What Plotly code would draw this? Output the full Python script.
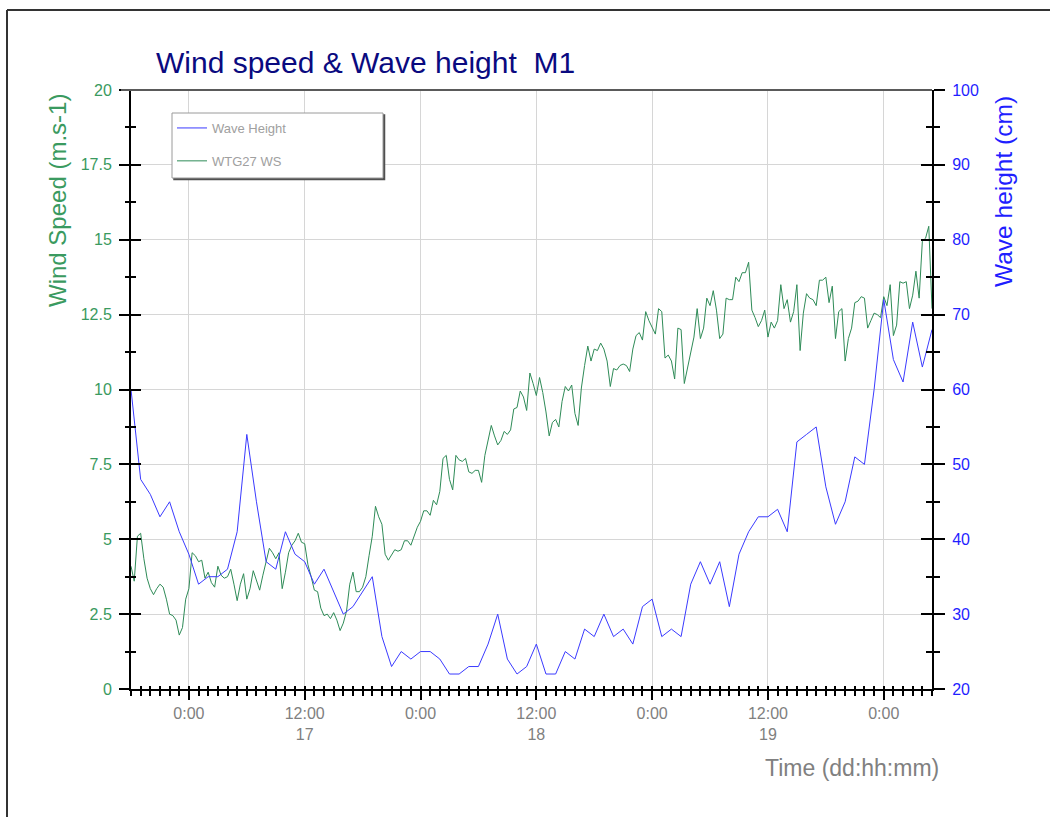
import pandas as pd
import plotly.graph_objects as go

# Hourly wave height at M1 (cm), first sample 16th 18:00
wave_height = [
    60, 48, 46, 43, 45, 41, 38, 34, 35, 35,
    36, 41, 54, 45, 37, 36, 41, 38, 37, 34,
    36, 33, 30, 31, 33, 35, 27, 23, 25, 24,
    25, 25, 24, 22, 22, 23, 23, 26, 30, 24,
    22, 23, 26, 22, 22, 25, 24, 28, 27, 30,
    27, 28, 26, 31, 32, 27, 28, 27, 34, 37,
    34, 37, 31, 38, 41, 43, 43, 44, 41, 53,
    54, 55, 47, 42, 45, 51, 50, 60, 72, 64,
    61, 69, 63, 68,
]

# WTG27 wind speed (m/s), 20-minute samples, first sample 16th 18:00
wind_speed = [
    4.1, 3.6, 5.1, 5.2, 4.35, 3.7, 3.35, 3.15, 3.35, 3.5,
    3.4, 3.0, 2.5, 2.45, 2.3, 1.8, 2.05, 3.0, 3.35, 4.55,
    4.45, 4.25, 4.3, 3.7, 3.9, 3.55, 3.4, 4.1, 3.8, 3.7,
    3.75, 4.0, 3.5, 2.95, 3.5, 3.85, 3.0, 3.35, 3.95, 3.6,
    3.3, 3.8, 4.3, 4.7, 4.55, 4.35, 4.55, 3.35, 3.9, 4.55,
    4.8, 4.95, 5.2, 4.9, 4.85, 4.15, 3.75, 3.3, 3.25, 2.7,
    2.45, 2.5, 2.35,
    2.55, 2.3, 1.95, 2.2, 2.6, 3.5, 3.9, 3.25, 3.25, 3.4,
    3.75, 4.45, 5.1, 6.1, 5.75, 5.5, 4.5, 4.3, 4.5, 4.65,
    4.6, 4.65, 4.95, 4.95, 4.8, 5.1, 5.4, 5.6, 5.95, 5.95,
    5.8, 6.3, 6.15, 6.6, 7.7, 7.8, 7.0, 6.65, 7.8, 7.65,
    7.6, 7.7, 7.25, 7.2, 7.3, 7.3, 6.9, 7.8, 8.3, 8.8,
    8.45, 8.15, 8.3, 8.6, 8.5, 8.65, 9.35, 9.4, 9.95, 9.75,
    9.3,
    10.55, 10.2, 9.8, 10.4, 9.9, 9.25, 8.45, 8.9, 9.0, 8.75,
    9.6, 10.1, 9.95, 10.15, 9.2, 8.8, 10.05, 10.8, 11.45, 10.95,
    11.35, 11.3, 11.55, 11.35, 10.95, 10.1, 10.7, 10.65, 10.8, 10.85,
    10.8, 10.6, 11.35, 11.8, 11.9, 11.65, 12.6, 12.3, 12.1, 11.85,
    12.7, 12.6, 11.05, 11.15, 10.95, 10.35, 12.05, 12.0, 10.2, 10.7,
    11.2, 11.75, 12.7, 11.7, 12.05, 13.05, 12.8, 13.3, 12.65, 11.7,
    11.85, 13.05, 13.0, 13.0,
    13.75, 13.6, 13.9, 13.9, 14.25, 12.65, 12.4, 12.1, 12.3, 12.65,
    11.75, 12.25, 12.05, 12.3, 13.5, 12.7, 13.0, 12.25, 12.6, 13.5,
    11.3, 12.55, 13.2, 13.05, 13.0, 12.8, 13.65, 13.65, 13.75, 12.9,
    13.45, 11.7, 12.6, 12.7, 10.95, 11.7, 12.05, 12.9, 12.95, 13.1,
    13.05, 12.05, 12.3, 12.55, 12.5, 12.4, 13.1, 12.8, 13.5, 11.8,
    12.15, 13.6, 13.55, 13.6, 12.7, 13.15, 13.95, 13.05, 14.95, 15.05,
    15.45, 12.7,
]

# Time axis: major labels every 12 hours
tick_times = [
    "2015-03-17 00:00", "2015-03-17 12:00", "2015-03-18 00:00",
    "2015-03-18 12:00", "2015-03-19 00:00", "2015-03-19 12:00",
    "2015-03-20 00:00",
]
tick_labels = ["0:00", "12:00<br>17", "0:00", "12:00<br>18", "0:00", "12:00<br>19", "0:00"]

start = "2015-03-16 18:00"
end = "2015-03-20 05:00"
wave_time = pd.date_range(start, periods=len(wave_height), freq="h")
wind_time = pd.date_range(start, periods=len(wind_speed), freq="20min")

FONT = "Liberation Sans, Arial, sans-serif"
GREEN_TXT = "#3a9a60"
GREEN_LINE = "#2e8b57"
BLUE_TXT = "#1f1fff"
BLUE_LINE = "#3a3aff"
GREY_TXT = "#808080"
GRID = "#d6d6d6"

fig = go.Figure()

fig.add_trace(go.Scatter(
    x=wave_time, y=wave_height, name="Wave Height", mode="lines",
    line=dict(color=BLUE_LINE, width=1), yaxis="y2", legendgroup="a",
))
fig.add_trace(go.Scatter(
    x=wind_time, y=wind_speed, name="WTG27 WS", mode="lines",
    line=dict(color=GREEN_LINE, width=1), yaxis="y", legendgroup="b",
))

# helper axes carry the inward half of each tick so ticks cross the axis line
fig.add_trace(go.Scatter(x=[], y=[], xaxis="x2", yaxis="y3", showlegend=False, hoverinfo="skip"))
fig.add_trace(go.Scatter(x=[], y=[], xaxis="x2", yaxis="y4", showlegend=False, hoverinfo="skip"))

W, H = 1050, 817
L, R, T, B = 131, 118, 90, 128
pw, ph = W - L - R, H - T - B


def px_x(px):
    return (px - L) / pw


def px_y(py):
    return (H - B - py) / ph


fig.update_layout(
    width=W, height=H,
    margin=dict(l=L, r=R, t=T, b=B, pad=0),
    paper_bgcolor="white", plot_bgcolor="white",
    font=dict(family=FONT),
    title=dict(
        text="Wind speed &amp; Wave height  M1",
        font=dict(size=30, color="#0a0a80", family=FONT),
        x=156 / W, xref="container", xanchor="left",
        y=1 - 52 / H, yref="container", yanchor="top",
    ),
    showlegend=True,
    legend=dict(
        x=px_x(172), y=px_y(113), xanchor="left", yanchor="top",
        bgcolor="rgba(0,0,0,0)", borderwidth=0,
        font=dict(size=13, color="#a0a0a0", family=FONT),
        tracegroupgap=13, itemwidth=30,
    ),
    xaxis=dict(
        type="date", range=[start, end],
        tickmode="array", tickvals=tick_times, ticktext=tick_labels,
        ticks="outside", ticklen=9, tickwidth=2, tickcolor="black",
        tickfont=dict(size=16, color=GREY_TXT),
        showline=True, linecolor="black", linewidth=2,
        showgrid=True, gridcolor=GRID, gridwidth=1, zeroline=False,
        minor=dict(tickmode="linear", tick0=start, dtick=3600000,
                   ticks="outside", ticklen=5, tickwidth=1.5, tickcolor="black",
                   showgrid=False),
    ),
    xaxis2=dict(
        type="date", range=[start, end], overlaying="x", anchor="y3", side="bottom",
        tickmode="array", tickvals=tick_times, ticktext=[""] * len(tick_times),
        showticklabels=False, ticks="inside", ticklen=4, tickwidth=2, tickcolor="black",
        showline=False, showgrid=False, zeroline=False,
        minor=dict(tickmode="linear", tick0=start, dtick=3600000,
                   ticks="inside", ticklen=3, tickwidth=1.5, tickcolor="black",
                   showgrid=False),
    ),
    yaxis=dict(
        range=[0, 20], tickmode="linear", tick0=0, dtick=2.5,
        ticks="outside", ticklen=10, tickwidth=2, tickcolor="black",
        tickfont=dict(size=16, color=GREEN_TXT), ticklabelstandoff=4,
        showline=True, linecolor="black", linewidth=2,
        showgrid=True, gridcolor=GRID, gridwidth=1, zeroline=False,
        minor=dict(tickmode="linear", tick0=0, dtick=1.25, ticks="outside",
                   ticklen=4, tickwidth=1.5, tickcolor="black", showgrid=False),
    ),
    yaxis2=dict(
        range=[20, 100], overlaying="y", side="right", anchor="x",
        tickmode="linear", tick0=20, dtick=10,
        ticks="outside", ticklen=11, tickwidth=2, tickcolor="black",
        tickfont=dict(size=16, color=BLUE_TXT), ticklabelstandoff=4,
        showline=True, linecolor="black", linewidth=2,
        showgrid=False, zeroline=False,
        minor=dict(tickmode="linear", tick0=20, dtick=5, ticks="outside",
                   ticklen=6, tickwidth=1.5, tickcolor="black", showgrid=False),
    ),
    yaxis3=dict(
        range=[0, 20], overlaying="y", side="left", anchor="x2",
        tickmode="linear", tick0=0, dtick=2.5, showticklabels=False,
        ticks="inside", ticklen=10, tickwidth=2, tickcolor="black",
        showline=False, showgrid=False, zeroline=False,
        minor=dict(tickmode="linear", tick0=0, dtick=1.25, ticks="inside",
                   ticklen=5, tickwidth=1.5, tickcolor="black", showgrid=False),
    ),
    yaxis4=dict(
        range=[20, 100], overlaying="y", side="right", anchor="x2",
        tickmode="linear", tick0=20, dtick=10, showticklabels=False,
        ticks="inside", ticklen=11, tickwidth=2, tickcolor="black",
        showline=False, showgrid=False, zeroline=False,
        minor=dict(tickmode="linear", tick0=20, dtick=5, ticks="inside",
                   ticklen=6, tickwidth=1.5, tickcolor="black", showgrid=False),
    ),
)

# axis titles
fig.add_annotation(
    text="Wind Speed (m.s-1)", textangle=-90, showarrow=False,
    xref="paper", yref="paper", x=px_x(57), y=px_y(201),
    xanchor="center", yanchor="middle",
    font=dict(size=24, color=GREEN_TXT, family=FONT),
)
fig.add_annotation(
    text="Wave height (cm)", textangle=-90, showarrow=False,
    xref="paper", yref="paper", x=px_x(1003), y=px_y(192),
    xanchor="center", yanchor="middle",
    font=dict(size=24.5, color=BLUE_TXT, family=FONT),
)
fig.add_annotation(
    text="Time (dd:hh:mm)", showarrow=False,
    xref="paper", yref="paper", x=px_x(941), y=px_y(768),
    xanchor="right", yanchor="middle",
    font=dict(size=23, color=GREY_TXT, family=FONT),
)

shapes = [
    # top edge of the plotting frame
    dict(type="line", xref="paper", yref="paper", x0=px_x(121), x1=1, y0=1, y1=1,
         line=dict(color="#5a5a5a", width=2)),
    # legend panel: shadow then box
    dict(type="rect", xref="paper", yref="paper",
         x0=px_x(174), x1=px_x(384.5), y0=px_y(179.5), y1=px_y(115),
         line=dict(color="#505050", width=1.5), fillcolor="#505050", layer="above"),
    dict(type="rect", xref="paper", yref="paper",
         x0=px_x(172), x1=px_x(383), y0=px_y(178), y1=px_y(113),
         line=dict(color="#9a9a9a", width=1), fillcolor="white", layer="above"),
    # outer page frame
    dict(type="line", xref="paper", yref="paper", x0=px_x(7), x1=px_x(1060),
         y0=px_y(10), y1=px_y(10), line=dict(color="#333333", width=2)),
    dict(type="line", xref="paper", yref="paper", x0=px_x(7), x1=px_x(7),
         y0=px_y(10), y1=px_y(830), line=dict(color="#333333", width=2)),
]
fig.update_layout(shapes=shapes)

fig.write_html("out.html")
